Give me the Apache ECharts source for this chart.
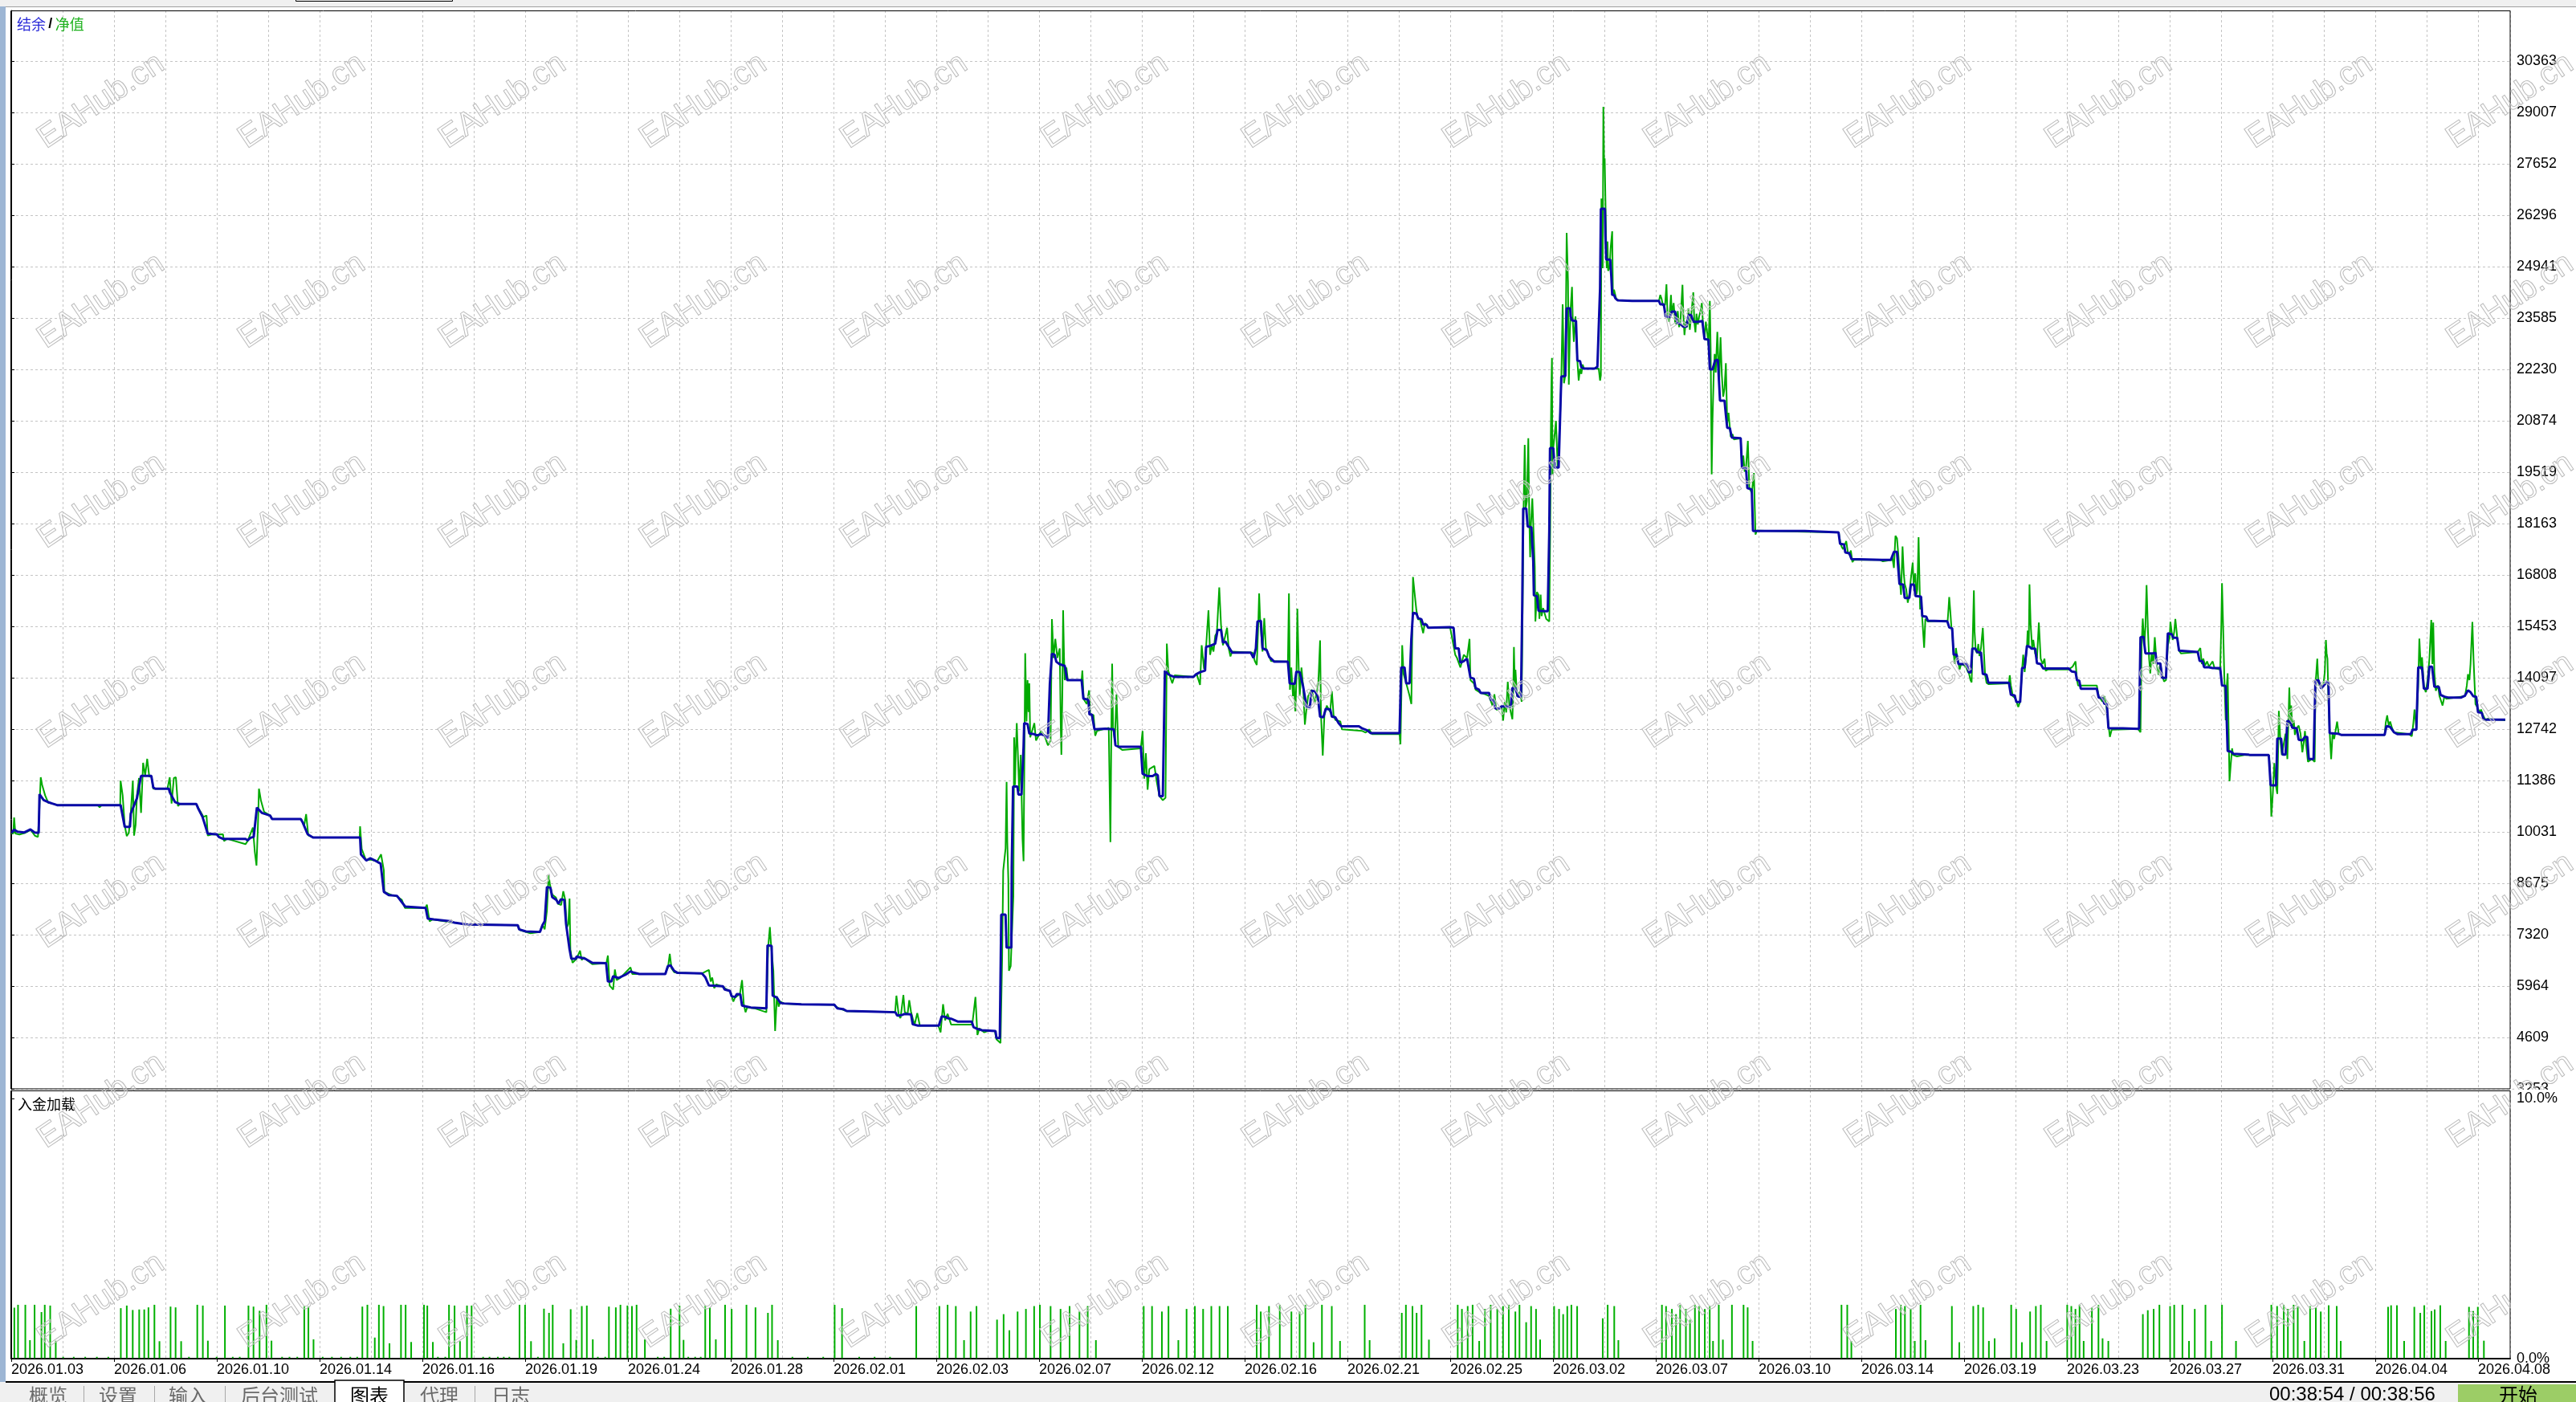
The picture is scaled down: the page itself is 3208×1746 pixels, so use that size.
<!DOCTYPE html>
<html><head><meta charset="utf-8">
<script src="https://cdn.jsdelivr.net/npm/echarts@6/dist/echarts.min.js"></script>
<style>html,body{margin:0;padding:0;background:#fff;overflow:hidden}#c{width:3208px;height:1746px}</style>
</head><body><div id="c"></div>
<script>
// ---------------- DATA ----------------
const DATE_LABELS = ['2026.01.03','2026.01.06','2026.01.10','2026.01.14','2026.01.16','2026.01.19','2026.01.24','2026.01.28','2026.02.01','2026.02.03','2026.02.07','2026.02.12','2026.02.16','2026.02.21','2026.02.25','2026.03.02','2026.03.07','2026.03.10','2026.03.14','2026.03.19','2026.03.23','2026.03.27','2026.03.31','2026.04.04','2026.04.08'];
const Y_TICKS = [3253,4609,5964,7320,8675,10031,11386,12742,14097,15453,16808,18163,19519,20874,22230,23585,24941,26296,27652,29007,30363];
const LOAD_TICKS = ['0.0%','10.0%'];
const TITLE_BAL = '结余', TITLE_EQ = '净值', SUB_TITLE = '入金加载';
const TABS = ['概览','设置','输入','后台测试','图表','代理','日志'];
const TIMER = '00:38:54 / 00:38:56';
const BUTTON = '开始';
const WATERMARK = 'EAHub.cn';

// balance (x in date-label units, value)
const BALANCE = [
[0,10003],[0.028,10087],[0.06,10038],[0.127,10017],[0.187,10095],[0.227,10017],[0.267,10003],[0.275,11026],[0.315,10871],[0.359,10815],[0.398,10779],[0.446,10737],[1.064,10737],[1.104,10165],[1.155,10165],[1.163,10511],[1.223,10921],[1.263,11507],[1.363,11507],[1.382,11203],[1.402,11168],[1.534,11168],[1.542,11076],[1.594,10815],[1.641,10765],[1.801,10765],[1.821,10638],[1.861,10426],[1.912,9982],[2.0,9967],[2.02,9897],[2.06,9847],[2.279,9847],[2.299,9805],[2.327,9875],[2.359,9897],[2.39,10673],[2.438,10532],[2.518,10462],[2.538,10370],[2.817,10370],[2.837,10271],[2.884,9967],[2.936,9883],[3.394,9883],[3.402,9438],[3.454,9276],[3.494,9333],[3.534,9283],[3.594,9191],[3.625,8450],[3.673,8365],[3.753,8344],[3.793,8203],[3.833,8061],[4.032,8026],[4.052,7744],[4.112,7722],[4.271,7673],[4.311,7638],[4.430,7588],[4.928,7567],
[4.941,7461],[5.008,7405],[5.144,7391],[5.168,7567],[5.19,7673],[5.212,8577],[5.246,8556],[5.263,8308],[5.303,8238],[5.324,8132],[5.347,8252],[5.381,8238],[5.398,7602],[5.432,6932],[5.449,6685],[5.493,6685],[5.5,6741],[5.585,6685],[5.653,6579],[5.788,6565],[5.805,6085],[5.839,6085],[5.856,6226],[5.907,6176],[5.975,6261],[6.025,6353],[6.042,6332],[6.110,6282],[6.364,6282],[6.388,6487],[6.415,6508],[6.449,6367],[6.483,6311],[6.720,6296],[6.754,6190],[6.788,5978],[6.924,5957],[6.941,5873],[6.992,5838],[7.008,5696],[7.042,5675],[7.059,5753],[7.093,5746],[7.110,5449],[7.144,5428],[7.195,5400],[7.347,5378],[7.358,7038],[7.398,7024],[7.408,5710],[7.449,5661],[7.483,5520],[7.517,5506],[7.686,5484],[8.008,5470],[8.036,5378],[8.093,5357],[8.127,5308],[8.432,5287],[8.602,5273],[8.619,5188],[8.669,5202],[8.693,5230],[8.754,5216],[8.771,4955],[8.822,4920],[9.025,4920],[9.053,5167],[9.093,5146],[9.110,5117],[9.144,5103],[9.212,5025],[9.345,5026],[9.362,4883],[9.395,4840],[9.444,4800],[9.576,4780],[9.586,4590],[9.618,4590],
[9.632,7849],[9.674,7849],[9.684,6978],[9.730,6978],[9.734,9089],[9.747,11226],[9.789,11226],[9.799,11016],[9.829,11016],[9.849,12273],[9.855,12901],[9.888,12876],[9.905,12625],[9.954,12608],[9.980,12575],[10.020,12608],[10.053,12575],[10.086,12507],[10.105,13948],[10.125,14728],[10.151,14703],[10.168,14518],[10.201,14451],[10.250,14409],[10.273,14032],[10.414,14032],[10.431,13546],[10.480,13513],[10.490,13127],[10.513,13127],[10.539,12734],[10.645,12751],[10.727,12734],[10.743,12315],[10.776,12273],[10.990,12273],[11.007,11561],[11.056,11502],[11.105,11502],[11.138,11561],[11.155,11519],[11.171,10974],[11.204,10974],[11.224,14284],[11.253,14200],[11.276,14158],[11.319,14116],[11.5,14116],[11.526,14183],[11.566,14242],[11.615,14284],[11.625,14912],[11.664,14937],[11.714,14996],[11.737,15356],[11.770,15356],[11.789,15021],[11.812,15054],[11.878,14761],[12.059,14761],[12.086,14619],[12.109,14870],[12.125,15582],[12.158,15599],[12.174,14870],[12.214,14828],[12.240,14644],[12.289,14518],[12.421,14518],[12.438,13948],[12.487,13931],[12.503,14258],[12.536,14242],[12.569,13865],[12.602,13345],[12.635,13320],[12.651,13756],[12.684,13739],[12.711,13613],[12.734,13069],[12.766,13052],[12.789,13278],[12.832,13261],[12.849,13069],[12.882,13052],[12.914,12901],[12.941,12817],[13.112,12817],[13.145,12759],[13.194,12708],[13.227,12633],[13.507,12633],[13.523,14367],[13.556,14367],[13.572,13948],[13.605,13948],[13.622,15121],[13.638,15808],[13.671,15791],[13.688,15666],[13.720,15641],[13.737,15498],[13.770,15498],[13.786,15414],[14.0,15431],[14.033,15414],[14.049,14870],[14.082,14870],[14.099,14493],[14.132,14535],[14.164,14602],[14.197,14099],[14.230,14074],[14.247,13823],[14.280,13781],[14.296,13697],[14.378,13697],[14.395,13513],
[14.419,13497],[14.440,13285],[14.479,13285],[14.5,13342],[14.590,13342],[14.605,13829],[14.635,13815],[14.659,13603],[14.689,13589],[14.701,16074],[14.710,18559],[14.740,18559],[14.754,18086],[14.790,18065],[14.808,17168],[14.814,16271],[14.844,16250],[14.859,15862],[14.949,15848],[14.964,17980],[14.971,20154],[15.003,20154],[15.016,19639],[15.055,19639],[15.068,20839],[15.081,22039],[15.120,22053],[15.128,23240],[15.133,23840],[15.167,23840],[15.172,23628],[15.185,23522],[15.224,23508],[15.237,22463],[15.263,22449],[15.276,22286],[15.302,22251],[15.406,22251],[15.432,22300],[15.445,22321],[15.458,24369],[15.466,26466],[15.505,26466],[15.510,25781],[15.518,25124],[15.557,25124],[15.568,24652],[15.576,24193],[15.594,24193],[15.607,24108],[15.628,24052],[15.771,24037],[16.031,24037],[16.044,23946],[16.078,23945],[16.096,23628],[16.104,23592],[16.135,23607],[16.156,23755],[16.188,23755],[16.208,23451],[16.240,23431],[16.266,23360],[16.299,23360],[16.318,23663],[16.344,23663],[16.365,23487],[16.409,23487],[16.422,23522],[16.453,23508],[16.474,23028],[16.513,23014],[16.526,22230],[16.552,22230],[16.578,22463],[16.604,22484],[16.625,21404],[16.669,21404],[16.682,21030],[16.695,20691],[16.721,20677],[16.740,20430],[16.826,20416],[16.839,19639],[16.878,19625],[16.891,19100],[16.934,19060],[16.946,17966],[17.449,17966],[17.464,17931],[17.778,17931],[17.793,17627],[17.832,17613],[17.844,17401],[17.883,17380],[17.904,17225],[18.198,17204],[18.287,17204],[18.317,17415],[18.347,17415],[18.371,16568],[18.407,16554],[18.422,16201],[18.467,16201],[18.482,16554],[18.512,16554],[18.527,16250],[18.581,16236],[18.593,15721],[18.632,15707],[18.647,15601],[18.836,15587],[18.855,15425],[18.884,15397],[18.898,14705],[18.927,14705],[18.945,14458],[19.029,14458],[19.044,14246],[19.065,14232],[19.080,14867],[19.109,14867],[19.127,14775],[19.164,14761],[19.182,14196],[19.218,14175],[19.236,13963],[19.436,13963],[19.455,13646],[19.491,13632],[19.509,13455],[19.545,13455],[19.564,14352],[19.589,14366],[19.611,14938],[19.636,14916],[19.655,14867],[19.691,14867],[19.709,14479],[19.745,14458],[19.771,14338],[20.018,14338],[20.047,14260],[20.084,14246],[20.098,14034],[20.120,14020],[20.135,13808],[20.291,13808],[20.309,13575],[20.345,13561],[20.364,13413],[20.389,13399],[20.404,12763],[20.545,12763],[20.702,12749],[20.716,15164],[20.745,15178],[20.764,14740],[20.836,14740],[20.862,14754],[20.873,14479],[20.909,14472],[20.927,14090],[20.964,14090],[20.982,15269],[21.018,15248],[21.036,15149],[21.073,15149],[21.091,14811],[21.273,14775],[21.291,14542],[21.320,14528],[21.335,14373],[21.382,14373],[21.418,14352],[21.491,14352],[21.509,13893],[21.545,13879],[21.564,12163],[21.6,12142],[21.618,12092],[21.764,12071],[21.782,12057],[21.964,12057],[21.982,11260],[22.036,11260],[22.047,12495],[22.084,12495],[22.098,12071],[22.127,12071],[22.145,12961],[22.171,12940],[22.193,12777],[22.236,12763],[22.255,12460],[22.291,12445],[22.316,12537],[22.338,12537],[22.353,11951],[22.4,11951],[22.418,14020],[22.447,14034],[22.473,13808],[22.498,13893],[22.527,13977],[22.545,13963],[22.556,12636],[22.636,12622],[22.673,12587],[23.091,12587],[23.109,12820],[23.145,12798],[23.182,12657],[23.218,12608],[23.345,12608],[23.364,12728],[23.4,12728],[23.418,14373],[23.455,14366],[23.473,13808],[23.509,13808],[23.527,14387],[23.553,14387],[23.575,13857],[23.618,13857],[23.636,13646],[23.673,13596],[23.709,13575],[23.836,13575],[23.873,13624],[23.902,13766],[23.927,13716],[23.953,13610],[23.982,13596],[24.0,13187],[24.036,13173],[24.055,12989],[24.265,12989]
];

// equity (x in date-label units, value)
const EQUITY = [
[0,9990],[0.02,9990],[0.028,10412],[0.04,9990],[0.08,9960],[0.14,10010],[0.19,10080],[0.23,9930],[0.26,9897],[0.275,10700],[0.287,11471],[0.30,11274],[0.33,10991],[0.36,10800],[0.40,10780],[0.45,10737],[0.84,10737],[0.86,10680],[0.88,10737],[1.06,10737],[1.064,11380],[1.084,10991],[1.104,10200],[1.124,9918],[1.144,10003],[1.163,10532],[1.183,11380],[1.195,9932],[1.21,10215],[1.223,10991],[1.243,11450],[1.263,10532],[1.283,11852],[1.303,11521],[1.323,11958],[1.343,11486],[1.363,11507],[1.382,11168],[1.40,11168],[1.52,11168],[1.542,11471],[1.56,10779],[1.582,11450],[1.602,11471],[1.622,10709],[1.64,10765],[1.80,10765],[1.84,10568],[1.87,10426],[1.90,10462],[1.912,9932],[1.95,9960],[2.06,9967],[2.07,9790],[2.10,9847],[2.279,9706],[2.30,9790],[2.351,10144],[2.37,9500],[2.386,9141],[2.40,10200],[2.410,11168],[2.43,10850],[2.46,10560],[2.52,10462],[2.54,10370],[2.82,10370],[2.85,10200],[2.869,10497],[2.89,9940],[2.94,9883],[3.39,9883],[3.394,10179],[3.41,9580],[3.45,9290],[3.50,9300],[3.56,9250],[3.598,9438],[3.625,9014],[3.63,8450],[3.70,8365],[3.75,8330],[3.80,8238],[3.83,8026],[4.03,8026],[4.044,8111],[4.07,7673],[4.1,7722],[4.25,7660],[4.3,7640],[4.43,7588],[4.93,7567],
[4.95,7440],[5.05,7356],[5.14,7390],[5.17,7567],[5.19,7461],[5.212,7955],[5.229,8887],[5.24,8661],[5.263,8379],[5.30,8300],[5.32,8132],[5.35,8100],[5.371,8464],[5.39,8238],[5.405,7497],[5.42,7600],[5.432,8273],[5.44,6932],[5.46,6579],[5.50,6685],[5.534,6896],[5.55,6650],[5.57,6720],[5.60,6650],[5.653,6543],[5.79,6565],[5.805,6769],[5.822,5978],[5.856,5873],[5.873,6402],[5.89,6120],[5.93,6190],[6.025,6459],[6.042,6282],[6.11,6282],[6.36,6282],[6.39,6459],[6.407,6812],[6.424,6430],[6.45,6330],[6.48,6311],[6.72,6296],[6.771,6367],[6.788,6388],[6.805,6085],[6.82,6190],[6.839,5907],[6.86,6010],[6.92,5950],[7.0,5800],[7.025,5555],[7.042,5660],[7.09,5760],[7.110,6120],[7.127,5485],[7.144,5273],[7.16,5400],[7.23,5378],[7.347,5273],[7.364,6967],[7.381,7518],[7.391,7100],[7.415,6367],[7.432,4779],[7.449,5696],[7.466,5420],[7.483,5555],[7.52,5500],[7.69,5484],[8.0,5470],[8.05,5380],[8.13,5300],[8.43,5287],[8.60,5280],[8.612,5710],[8.635,5188],[8.652,5117],[8.680,5731],[8.693,5287],[8.72,5216],[8.737,5590],[8.754,5287],[8.788,4930],[8.815,5252],[8.84,4920],[9.02,4920],[9.042,4743],[9.066,5484],[9.086,5060],[9.11,5230],[9.144,4950],[9.35,4950],[9.381,5675],[9.40,4673],[9.42,4849],[9.466,4743],[9.50,4779],[9.57,4779],[9.585,4560],[9.625,4461],
[9.641,6743],[9.651,9005],[9.674,9592],[9.684,11351],[9.691,9759],[9.701,8754],[9.707,6366],[9.724,6492],[9.750,8335],[9.757,12524],[9.766,11267],[9.773,12105],[9.783,12901],[9.799,11686],[9.806,11100],[9.822,12063],[9.839,9843],[9.849,9257],[9.855,11267],[9.865,14744],[9.878,12943],[9.888,14032],[9.898,13194],[9.905,13948],[9.914,12524],[9.954,12901],[9.970,12440],[10.020,12692],[10.053,12566],[10.086,12315],[10.112,12440],[10.125,15641],[10.141,14619],[10.158,15121],[10.178,14619],[10.201,14870],[10.211,12776],[10.217,12063],[10.227,13781],[10.234,15875],[10.243,14619],[10.25,14032],[10.266,14367],[10.28,14032],[10.414,14032],[10.421,14284],[10.434,13530],[10.464,13404],[10.487,13764],[10.497,13127],[10.530,13111],[10.546,12566],[10.563,12692],[10.678,12776],[10.694,9759],[10.704,12943],[10.711,14468],[10.720,12776],[10.737,12440],[10.753,13655],[10.770,12273],[10.809,12189],[10.990,12231],[11.007,12692],[11.023,11435],[11.039,12105],[11.056,11142],[11.072,11686],[11.122,11770],[11.145,11351],[11.171,10974],[11.204,10865],[11.230,10932],[11.243,14996],[11.257,14284],[11.276,14116],[11.296,13948],[11.319,14158],[11.5,14116],[11.533,14200],[11.566,13907],[11.582,14954],[11.605,14325],[11.625,14912],[11.648,15875],[11.664,14702],[11.681,14937],[11.697,14786],[11.714,15205],[11.730,15289],[11.753,16479],[11.770,15498],[11.789,14954],[11.812,15205],[11.829,15414],[11.845,14870],[11.862,14660],[11.878,14786],[12.076,14761],[12.099,14535],[12.118,14434],[12.132,15456],[12.141,16319],[12.151,15624],[12.174,14786],[12.191,15666],[12.207,14870],[12.224,14761],[12.257,14535],[12.421,14518],[12.431,16319],[12.441,13781],[12.454,14367],[12.470,13613],[12.480,13948],[12.493,13211],[12.503,13948],[12.513,15917],[12.526,14367],[12.536,13613],[12.553,14367],[12.569,13865],[12.586,12859],[12.602,13278],[12.618,13613],[12.651,13781],[12.684,13446],[12.717,13948],[12.734,15079],[12.743,13111],[12.760,12046],[12.776,13111],[12.799,13362],[12.832,13194],[12.849,13739],[12.865,13111],[12.882,12985],[12.931,12943],[12.947,12734],[13.145,12692],[13.178,12650],[13.211,12734],[13.24,12608],[13.507,12608],[13.516,12340],[13.526,13781],[13.533,14954],[13.546,14200],[13.572,13948],[13.589,13781],[13.605,13613],[13.622,13404],[13.632,15456],[13.638,16755],[13.655,16294],[13.671,15875],[13.688,15624],[13.704,15666],[13.737,15272],[13.753,15540],[13.786,15414],[14.0,15414],[14.049,14702],[14.066,14619],[14.099,14367],[14.132,14702],[14.164,14619],[14.188,15121],[14.197,14032],[14.230,13948],[14.247,13781],[14.296,13697],[14.345,13655],[14.378,13613],[14.411,13362],
[14.42,13497],[14.43,13659],[14.45,13250],[14.479,13285],[14.5,13342],[14.515,12967],[14.53,13462],[14.545,13180],[14.560,13991],[14.575,13391],[14.590,13180],[14.605,13003],[14.614,13815],[14.620,14909],[14.629,13815],[14.635,14308],[14.65,13603],[14.68,13744],[14.695,13462],[14.704,15721],[14.713,18404],[14.725,20239],[14.734,18545],[14.746,18757],[14.760,20416],[14.769,18404],[14.778,17274],[14.784,18050],[14.799,18827],[14.814,18792],[14.823,17027],[14.829,15580],[14.844,16357],[14.859,16286],[14.868,15650],[14.880,16286],[14.889,15721],[14.904,15933],[14.934,15650],[14.964,15580],[14.973,18050],[14.979,20522],[14.984,21721],[14.990,22533],[14.995,19462],[15.003,20154],[15.029,20875],[15.045,19639],[15.06,19639],[15.068,20900],[15.081,21968],[15.094,23945],[15.107,21863],[15.120,22080],[15.133,25831],[15.146,24546],[15.154,21828],[15.164,23168],[15.172,23840],[15.185,24404],[15.193,23487],[15.203,22957],[15.219,23628],[15.229,22957],[15.237,22463],[15.25,21934],[15.263,22251],[15.276,22110],[15.289,22357],[15.302,22251],[15.445,22251],[15.458,21934],[15.466,22075],[15.471,26734],[15.484,24899],[15.490,29156],[15.497,27722],[15.503,27793],[15.510,26734],[15.518,25464],[15.523,24899],[15.531,25605],[15.536,24828],[15.55,24899],[15.562,25464],[15.576,25873],[15.583,24193],[15.594,24334],[15.615,24087],[15.641,24052],[15.771,24037],[16.031,24037],[16.044,24193],[16.057,24087],[16.070,23910],[16.091,23934],[16.104,24475],[16.115,23628],[16.130,23487],[16.148,24193],[16.156,23698],[16.174,23981],[16.188,23487],[16.201,23416],[16.214,23769],[16.227,23346],[16.240,23487],[16.260,24461],[16.268,23698],[16.279,23134],[16.292,23487],[16.305,23346],[16.318,23840],[16.331,23275],[16.344,23628],[16.365,24263],[16.375,23487],[16.386,23204],[16.396,23698],[16.409,23416],[16.422,23628],[16.435,23769],[16.448,23981],[16.461,23346],[16.474,23063],[16.487,23487],[16.500,23204],[16.513,22851],[16.526,24037],[16.534,22780],[16.544,19462],[16.552,20875],[16.565,22216],[16.573,22639],[16.583,22145],[16.599,23218],[16.609,22498],[16.617,21934],[16.630,23077],[16.643,22075],[16.656,21510],[16.669,21722],[16.682,22392],[16.695,20804],[16.708,21086],[16.729,20451],[16.747,20522],[16.760,20381],[16.826,20416],[16.839,19639],[16.852,19957],[16.865,19533],[16.878,19639],[16.896,20345],[16.91,19110],[16.934,18969],[16.955,19498],[16.964,18509],[16.970,17874],[16.985,17980],[17.0,17944],[17.45,17944],[17.78,17931],[17.793,17698],[17.808,17557],[17.823,17486],[17.838,17592],[17.853,17698],[17.868,17415],[17.883,17345],[17.898,17450],[17.913,17147],[17.928,17204],[18.180,17204],[18.21,17168],[18.30,17204],[18.302,17274],[18.317,16992],[18.332,17839],[18.347,17769],[18.362,17274],[18.374,16710],[18.386,16286],[18.392,16250],[18.401,17557],[18.413,16850],[18.422,16568],[18.437,16427],[18.452,16074],[18.467,16286],[18.482,16710],[18.500,17133],[18.509,16568],[18.524,16850],[18.536,16286],[18.545,16427],[18.557,17804],[18.566,16639],[18.572,15897],[18.581,16215],[18.593,15650],[18.611,14888],[18.623,15650],[18.647,15580],[18.84,15601],[18.847,15870],[18.855,16223],[18.865,15870],[18.876,15446],[18.884,15305],[18.898,14740],[18.909,14458],[18.920,14881],[18.935,14599],[18.945,14493],[18.956,14316],[18.971,14458],[19.0,14422],[19.018,14387],[19.036,14260],[19.047,14211],[19.062,14034],[19.073,13977],[19.084,15164],[19.095,16399],[19.102,15305],[19.113,14811],[19.127,14740],[19.138,14987],[19.149,14669],[19.164,14881],[19.182,15411],[19.193,14740],[19.204,14175],[19.218,13963],[19.236,13928],[19.436,13949],[19.444,14161],[19.455,13893],[19.465,13752],[19.473,13610],[19.491,13575],[19.509,13469],[19.527,13328],[19.545,13469],[19.564,14316],[19.575,14705],[19.589,14246],[19.6,14599],[19.611,14881],[19.618,15340],[19.629,14952],[19.636,16561],[19.647,15517],[19.662,14881],[19.673,15093],[19.691,14740],[19.709,14599],[19.727,15552],[19.745,14599],[19.764,14458],[19.782,14599],[19.793,14281],[19.818,14316],[20.018,14316],[20.055,14387],[20.084,14528],[20.098,14034],[20.109,13893],[20.291,13893],[20.309,13610],[20.345,13469],[20.364,13610],[20.382,13399],[20.4,12975],[20.418,12537],[20.436,12728],[20.691,12749],[20.716,12657],[20.727,14952],[20.738,15658],[20.753,14952],[20.764,15446],[20.775,16540],[20.789,15305],[20.8,14599],[20.811,14211],[20.825,14740],[20.84,14458],[20.855,15164],[20.873,14458],[20.891,14175],[20.909,14458],[20.927,14175],[20.945,13999],[20.964,14034],[20.982,14952],[21.0,15164],[21.007,15573],[21.029,15093],[21.044,15305],[21.055,15644],[21.073,15164],[21.091,14811],[21.109,14740],[21.273,14775],[21.298,14881],[21.313,14458],[21.327,14599],[21.345,14422],[21.364,14528],[21.382,14387],[21.4,14458],[21.418,14528],[21.436,14352],[21.491,14316],[21.502,15446],[21.509,16590],[21.52,15446],[21.531,14175],[21.545,12975],[21.556,13893],[21.564,14211],[21.575,12481],[21.582,11365],[21.593,11775],[21.607,12234],[21.618,12057],[21.655,12022],[21.727,12057],[21.964,12057],[21.975,11775],[21.989,10433],[22.004,11069],[22.018,11845],[22.036,11210],[22.047,11033],[22.062,13222],[22.076,12481],[22.091,12057],[22.109,12340],[22.127,12622],[22.138,12269],[22.145,11951],[22.156,13046],[22.164,13836],[22.175,12834],[22.182,13363],[22.193,12763],[22.207,12975],[22.218,12587],[22.236,12763],[22.255,12834],[22.273,12622],[22.291,12128],[22.309,12481],[22.316,12693],[22.327,12340],[22.345,11881],[22.382,11951],[22.411,11881],[22.418,13893],[22.436,14599],[22.447,13893],[22.462,13963],[22.484,13822],[22.498,13963],[22.509,14246],[22.520,15093],[22.527,14740],[22.535,14599],[22.545,13469],[22.556,12693],[22.571,11951],[22.585,12622],[22.6,12481],[22.618,12763],[22.629,12940],[22.644,12622],[22.673,12587],[23.091,12587],[23.102,12905],[23.116,13102],[23.131,12834],[23.145,12940],[23.164,12763],[23.182,12657],[23.327,12608],[23.356,12551],[23.371,12905],[23.382,13257],[23.4,12763],[23.418,13893],[23.429,15128],[23.444,14316],[23.455,14634],[23.473,13893],[23.491,13716],[23.509,14034],[23.527,14599],[23.545,15622],[23.556,14458],[23.564,15552],[23.575,14246],[23.589,13752],[23.611,13893],[23.625,13610],[23.655,13363],[23.673,13610],[23.691,13540],[23.873,13610],[23.891,13893],[23.902,14189],[23.916,14034],[23.927,14458],[23.945,15566],[23.956,14599],[23.967,13893],[23.975,13398],[23.993,13328],[24.015,13187],[24.029,13257],[24.047,13116],[24.073,12975],[24.091,13010],[24.265,12975]
];

// deposit load bars (x in date-label units, percent)
const LOAD = [
[0.030,1.96],[0.066,2.07],[0.137,2.07],[0.182,0.71],[0.227,2.07],[0.294,1.79],[0.326,2.07],[0.379,2.04],[0.433,0.69],[0.505,0.07],[0.608,0.07],[0.720,0.07],[0.833,0.07],[0.944,0.07],
[1.066,1.94],[1.124,2.04],[1.182,1.87],[1.245,1.89],[1.294,1.89],[1.335,1.97],[1.393,2.07],[1.442,0.67],[1.550,2.0],[1.599,1.97],[1.653,0.67],[1.729,0.07],[1.810,2.07],[1.864,2.04],[1.913,0.69],[1.998,0.07],
[2.079,2.04],[2.155,0.07],[2.223,0.07],[2.308,2.04],[2.357,2.0],[2.416,1.84],[2.483,2.07],[2.532,0.69],[2.635,0.07],[2.707,0.07],[2.783,0.07],[2.851,2.02],[2.891,2.0],[2.941,0.74],
[3.030,0.07],[3.120,0.07],[3.209,0.07],[3.299,0.07],[3.366,0.07],[3.416,2.0],[3.465,2.07],[3.537,0.81],[3.577,2.07],[3.622,2.02],[3.680,0.59],[3.792,2.07],[3.837,2.07],[3.891,0.64],
[4.016,2.07],[4.048,2.04],[4.102,0.64],[4.151,0.07],[4.223,0.07],[4.259,2.07],[4.313,2.04],[4.366,0.67],[4.434,2.04],[4.479,2.04],[4.591,0.07],[4.653,0.07],[4.734,0.07],[4.792,0.07],[4.846,0.07],[4.945,2.07],[4.999,2.07],
[5.057,0.67],[5.124,0.07],[5.183,1.92],[5.232,1.76],[5.268,2.07],[5.371,0.59],[5.443,1.90],[5.497,0.72],[5.551,2.02],[5.600,2.04],[5.658,0.74],[5.707,0.07],[5.779,0.07],[5.815,2.0],[5.882,1.97],[5.927,2.07],[5.995,2.04],
[6.039,2.02],[6.084,2.07],[6.165,0.74],[6.290,0.07],[6.353,0.07],[6.416,1.92],[6.502,2.04],[6.541,0.72],[6.587,0.07],[6.654,0.07],[6.708,0.07],[6.752,2.04],[6.797,1.97],[6.855,0.74],
[6.945,2.07],[7.009,1.91],[7.153,2.07],[7.241,1.97],[7.362,1.76],[7.402,2.07],[7.458,0.71],[7.6,0.07],[7.75,0.07],[7.9,0.07],[8.011,2.07],[8.083,1.94],[8.25,0.07],[8.4,0.07],[8.55,0.07],[8.805,2.02],[9.030,2.02],[9.110,2.07],[9.190,2.02],[9.270,0.71],[9.334,1.81],[9.391,2.02],[9.591,1.50],[9.655,1.71],[9.711,1.09],[9.791,1.81],[9.872,1.91],[9.952,2.02],
[10.008,2.07],[10.112,2.02],[10.209,1.91],[10.297,2.02],[10.393,1.81],[10.473,2.02],[10.553,0.71],[11.018,2.02],[11.099,2.02],[11.195,1.81],[11.259,2.02],[11.355,0.71],[11.435,1.91],[11.516,2.02],[11.596,1.91],[11.676,2.02],[11.756,2.02],[11.836,2.02],[12.117,2.07],[12.157,1.81],[12.237,2.02],[12.342,2.07],
[12.455,1.81],[12.535,1.81],[12.591,2.07],[12.671,0.63],[12.752,2.07],[12.848,2.02],[12.928,0.68],[13.168,2.07],[13.216,0.71],[13.529,1.76],[13.569,2.07],[13.633,2.02],[13.673,1.76],[13.721,2.07],[13.793,0.73],[14.073,2.07],[14.114,1.91],[14.170,2.02],[14.218,2.07],[14.282,0.68],[14.338,1.91],[14.394,2.07],[14.458,1.91],[14.514,2.02],[14.570,2.07],[14.634,1.81],[14.674,2.07],[14.739,1.40],[14.787,2.02],[14.835,1.91],[14.875,0.73],
[15.011,2.02],[15.059,1.91],[15.099,1.71],[15.139,2.02],[15.179,2.07],[15.235,2.02],[15.484,1.55],[15.532,2.07],[15.596,2.02],[15.636,0.71],[16.060,2.07],[16.100,2.02],[16.157,1.91],[16.197,1.71],[16.237,2.07],[16.293,1.91],[16.333,1.50],[16.381,2.07],[16.421,2.02],[16.477,1.91],[16.525,2.02],[16.557,0.68],[16.613,2.07],[16.653,0.73],[16.741,2.07],[16.854,2.07],[16.894,1.97],[16.942,0.68],
[17.807,2.07],[17.863,2.07],[17.903,0.68],[18.336,1.91],[18.384,2.07],[18.424,2.02],[18.480,1.91],[18.520,0.68],[18.576,2.07],[18.624,0.71],[18.881,2.02],[18.953,0.63],[19.089,2.02],[19.137,2.07],[19.185,1.97],[19.241,0.68],[19.297,0.78],[19.458,2.07],[19.506,1.91],[19.562,0.63],[19.642,1.81],[19.698,2.02],[19.746,2.07],[19.802,0.68],
[20.003,2.07],[20.043,2.02],[20.083,1.91],[20.123,2.07],[20.163,0.68],[20.243,1.97],[20.307,2.07],[20.347,0.78],[20.403,0.68],[20.739,1.71],[20.787,1.86],[20.844,1.91],[20.900,2.07],[21.004,2.02],[21.044,2.07],[21.124,2.07],[21.188,0.68],[21.244,1.91],[21.348,2.07],[21.404,0.68],[21.509,2.07],[21.645,0.68],[21.989,2.07],[22.045,2.02],[22.110,2.07],[22.150,1.91],[22.206,2.07],[22.246,2.02],[22.310,0.68],[22.366,2.02],[22.422,1.97],[22.470,1.81],[22.547,2.05],[22.625,2.02],[22.664,0.68],
[23.125,1.99],[23.154,2.05],[23.211,2.05],[23.281,0.68],[23.380,1.99],[23.438,1.76],[23.477,2.05],[23.547,1.83],[23.578,1.89],[23.633,2.05],[23.685,0.68],[23.912,1.99],[23.953,1.83],[23.998,1.99],[24.057,0.69]
];

// ---------------- LAYOUT ----------------
const W = 3208, H = 1746;
const PL = 14, PR = 3126;
const MT = 13, MB = 1356;
const ST = 1358, SB = 1692;
const X_MAX = (PR - PL) / 128;
const Y_BASE = Y_TICKS[0];
const Y_STEP = (Y_TICKS[Y_TICKS.length - 1] - Y_TICKS[0]) / (Y_TICKS.length - 1);
const Y_MAX = (MB - MT) / 64 * Y_STEP;
const LOAD_MAX = (SB - ST) / 32.4;
const LAT = '"Liberation Sans", Arial, sans-serif';
const CJK = '"Noto Sans CJK SC", sans-serif';
const GRIDC = '#c4c4c4';

const chart = echarts.init(document.getElementById('c'), null, {renderer: 'canvas', width: W, height: H});
const dashed = {show: true, lineStyle: {color: GRIDC, type: [3, 3], width: 1}};

const graphics = [];
graphics.push({type: 'rect', shape: {x: 0, y: 0, width: W, height: 8}, style: {fill: '#f0f0f0'}, z: 100, silent: true});
graphics.push({type: 'line', shape: {x1: 0, y1: 8.5, x2: W, y2: 8.5}, style: {stroke: '#a0a0a0', lineWidth: 1}, z: 100, silent: true});
graphics.push({type: 'rect', shape: {x: 368.5, y: -10, width: 195, height: 11.5}, style: {fill: '#f0f0f0', stroke: '#000', lineWidth: 1}, z: 101, silent: true});
graphics.push({type: 'rect', shape: {x: 0, y: 8, width: 7, height: 1713}, style: {fill: '#9db6d4'}, z: 100, silent: true});
graphics.push({type: 'rect', shape: {x: 13.5, y: 13.5, width: PR - 13.5, height: MB - 13.5}, style: {fill: null, stroke: '#000', lineWidth: 1}, z: 20, silent: true});
graphics.push({type: 'rect', shape: {x: 13.5, y: ST + 0.5, width: PR - 13.5, height: SB - ST - 0.5}, style: {fill: null, stroke: '#000', lineWidth: 1}, z: 20, silent: true});
graphics.push({type: 'rect', shape: {x: PR + 1, y: MB + 1, width: W - PR - 1, height: SB - MB - 3}, style: {fill: '#fff'}, z: 150, silent: true});
graphics.push({type: 'text', x: 21, y: 30, z: 30, silent: true, style: {
  text: '{a|' + TITLE_BAL + '} {s|/} {b|' + TITLE_EQ + '}', verticalAlign: 'middle', textVerticalAlign: 'middle',
  rich: {a: {fill: '#2a2ad8', font: '18px ' + CJK}, s: {fill: '#000', font: 'bold 18px ' + LAT}, b: {fill: '#1fb21f', font: '18px ' + CJK}}}});
graphics.push({type: 'text', x: 22, y: 1375, z: 30, silent: true, style: {text: SUB_TITLE, fill: '#000', font: '18px ' + CJK, verticalAlign: 'middle', textVerticalAlign: 'middle'}});
graphics.push({type: 'rect', shape: {x: 0, y: 1721, width: W, height: 25}, style: {fill: '#f0f0f0'}, z: 100, silent: true});
graphics.push({type: 'line', shape: {x1: 7, y1: 1721, x2: W, y2: 1721}, style: {stroke: '#000', lineWidth: 2}, z: 101, silent: true});
graphics.push({type: 'rect', shape: {x: 417, y: 1719, width: 86, height: 30}, style: {fill: '#fff', stroke: '#000', lineWidth: 1.5}, z: 102, silent: true});
const TAB_CX = [60, 147, 234, 348, 460, 547, 636];
[104.5, 192.5, 280.5, 591.5].forEach(x => graphics.push({type: 'line', shape: {x1: x, y1: 1726, x2: x, y2: H}, style: {stroke: '#a8a8a8', lineWidth: 1}, z: 103, silent: true}));
TABS.forEach((t, i) => graphics.push({type: 'text', x: TAB_CX[i], y: 1726, z: 104, silent: true,
  style: {text: t, fill: i === 4 ? '#000' : '#6a6a6a', font: '24px ' + CJK, align: 'center', textAlign: 'center', verticalAlign: 'top', textVerticalAlign: 'top'}}));
graphics.push({type: 'text', x: 2826, y: 1725, z: 104, silent: true, style: {text: TIMER, fill: '#000', font: '24px ' + LAT, verticalAlign: 'top', textVerticalAlign: 'top'}});
graphics.push({type: 'rect', shape: {x: 3061, y: 1724, width: 147, height: 22}, style: {fill: '#9ccd66'}, z: 103, silent: true});
graphics.push({type: 'text', x: 3136, y: 1725, z: 104, silent: true, style: {text: BUTTON, fill: '#000', font: '24px ' + CJK, align: 'center', textAlign: 'center', verticalAlign: 'top', textVerticalAlign: 'top'}});
for (let r = 0; r < 7; r++) {
  for (let c = 0; c < 13; c++) {
    graphics.push({type: 'text', x: 126 + 250 * c, y: 126 + 249 * r, rotation: 34 * Math.PI / 180, z: 90, silent: true,
      style: {text: WATERMARK, font: '40px ' + LAT, fill: 'rgba(255,255,255,0.25)', stroke: '#b2b2b2', lineWidth: 1,
        align: 'center', textAlign: 'center', verticalAlign: 'middle', textVerticalAlign: 'middle'}});
  }
}

const option = {
  animation: false,
  backgroundColor: '#fff',
  grid: [
    {left: PL, top: MT, width: PR - PL, height: MB - MT, show: false},
    {left: PL, top: ST, width: PR - PL, height: SB - ST, show: false}
  ],
  xAxis: [
    {type: 'value', gridIndex: 0, min: 0, max: X_MAX, interval: 0.5, axisLine: {show: false}, axisTick: {show: false}, axisLabel: {show: false}, splitLine: dashed},
    {type: 'value', gridIndex: 1, min: 0, max: X_MAX, interval: 0.5, axisLine: {show: false}, axisTick: {show: false}, axisLabel: {show: false}, splitLine: dashed},
    {type: 'value', gridIndex: 1, min: 0, max: X_MAX, interval: 1, position: 'bottom',
      axisLine: {show: true, lineStyle: {color: '#000', width: 2}},
      axisTick: {show: true, length: 4, lineStyle: {color: '#000'}},
      splitLine: {show: false},
      axisLabel: {show: true, showMaxLabel: false, align: 'left', margin: 5, color: '#000', fontSize: 18, fontFamily: 'Liberation Sans',
        formatter: v => { const i = Math.round(v); return (Math.abs(v - i) < 1e-6 && DATE_LABELS[i]) ? DATE_LABELS[i] : ''; }}}
  ],
  yAxis: [
    {type: 'value', gridIndex: 0, position: 'right', min: 0, max: Y_MAX, interval: Y_STEP,
      axisLine: {show: true, lineStyle: {color: '#000', width: 1}},
      axisTick: {show: true, inside: false, length: 4, lineStyle: {color: '#000'}},
      splitLine: dashed,
      axisLabel: {show: true, showMaxLabel: false, margin: 8, color: '#000', fontSize: 18, fontFamily: 'Liberation Sans',
        formatter: v => { const i = Math.round(v / Y_STEP); return Y_TICKS[i] !== undefined ? String(Y_TICKS[i]) : ''; }}},
    {type: 'value', gridIndex: 1, position: 'right', min: 0, max: LOAD_MAX, interval: 10, z: 200,
      axisLine: {show: true, lineStyle: {color: '#000', width: 1}},
      axisTick: {show: true, inside: false, length: 4, lineStyle: {color: '#000'}},
      splitLine: {show: false},
      axisLabel: {show: true, showMaxLabel: false, margin: 8, color: '#000', fontSize: 18, fontFamily: 'Liberation Sans',
        formatter: v => { const i = Math.round(v / 10); return (Math.abs(v - i * 10) < 1e-6 && LOAD_TICKS[i]) ? LOAD_TICKS[i] : ''; }}}
  ],
  series: [
    {name: 'equity', type: 'line', xAxisIndex: 0, yAxisIndex: 0, data: EQUITY.map(p => [p[0], p[1] - Y_BASE]),
      showSymbol: false, symbol: 'none', lineStyle: {color: '#00aa00', width: 2}, z: 2, silent: true, clip: true},
    {name: 'balance', type: 'line', xAxisIndex: 0, yAxisIndex: 0, data: BALANCE.map(p => [p[0], p[1] - Y_BASE]),
      showSymbol: false, symbol: 'none', lineStyle: {color: '#0a0aa8', width: 3}, z: 3, silent: true, clip: true},
    {name: 'load', type: 'bar', xAxisIndex: 1, yAxisIndex: 1, data: LOAD, barWidth: 2,
      itemStyle: {color: '#00b000'}, z: 2, silent: true}
  ],
  graphic: {elements: graphics}
};
chart.setOption(option);
</script>
</body></html>
